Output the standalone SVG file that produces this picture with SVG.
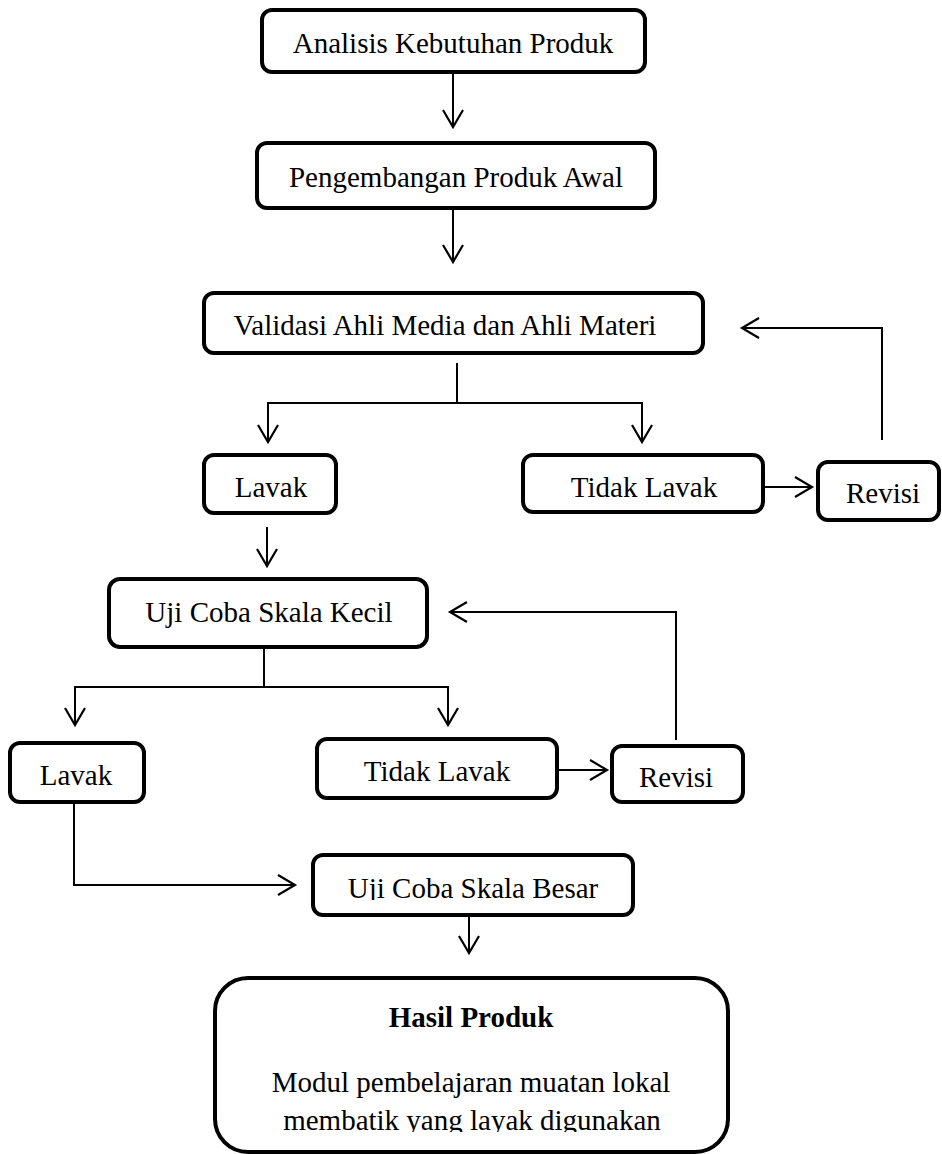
<svg xmlns="http://www.w3.org/2000/svg" width="942" height="1154" viewBox="0 0 942 1154">
<style>
.box{fill:#fff;stroke:#000;stroke-width:4}
.t{font-family:"Liberation Serif","Times New Roman",serif;font-size:29px;fill:#000;text-anchor:middle}
.b{font-weight:bold}
.c{fill:none;stroke:#000;stroke-width:2}
</style>
<defs>
<marker id="ah" markerUnits="userSpaceOnUse" orient="auto" overflow="visible" refX="0" refY="0" markerWidth="20" markerHeight="20">
<path d="M-17,-10 L0,0 L-17,10" fill="none" stroke="#000" stroke-width="2.2"/>
</marker>
<clipPath id="clipBesar"><rect x="313" y="855" width="320" height="45"/></clipPath>
<clipPath id="clipHasil"><rect x="215" y="978" width="513" height="154"/></clipPath>
</defs>
<rect width="942" height="1154" fill="#fff"/>
<g id="connectors">
<path class="c" d="M453,72 V127" marker-end="url(#ah)"/>
<path class="c" d="M453,208 V262" marker-end="url(#ah)"/>
<path class="c" d="M457,363 V403 H268 V442" marker-end="url(#ah)"/>
<path class="c" d="M457,403 H642 V442" marker-end="url(#ah)"/>
<path class="c" d="M763,487 H812" marker-end="url(#ah)"/>
<path class="c" d="M882,440 V328 H742" marker-end="url(#ah)"/>
<path class="c" d="M267,527 V566" marker-end="url(#ah)"/>
<path class="c" d="M264,647 V687 H75 V725" marker-end="url(#ah)"/>
<path class="c" d="M264,687 H448 V725" marker-end="url(#ah)"/>
<path class="c" d="M557,770 H607" marker-end="url(#ah)"/>
<path class="c" d="M676,740 V612 H450" marker-end="url(#ah)"/>
<path class="c" d="M74,802 V885 H295" marker-end="url(#ah)"/>
<path class="c" d="M469,915 V953" marker-end="url(#ah)"/>
</g>
<g id="analisis">
<rect class="box" x="262" y="10" width="383" height="62" rx="10"/>
<text class="t" x="453" y="53">Analisis Kebutuhan Produk</text>
</g>
<g id="pengembangan">
<rect class="box" x="257" y="143" width="398" height="65" rx="10"/>
<text class="t" x="456" y="187">Pengembangan Produk Awal</text>
</g>
<g id="validasi">
<rect class="box" x="204" y="293" width="499" height="60" rx="10"/>
<text class="t" x="445" y="335">Validasi Ahli Media dan Ahli Materi</text>
</g>
<g id="layak1">
<rect class="box" x="204" y="455" width="132" height="58" rx="10"/>
<text class="t" x="271" y="497">Lavak</text>
</g>
<g id="tidak1">
<rect class="box" x="523" y="455" width="240" height="57" rx="10"/>
<text class="t" x="644" y="497">Tidak Lavak</text>
</g>
<g id="revisi1">
<rect class="box" x="818" y="462" width="121" height="58" rx="10"/>
<text class="t" x="883" y="503">Revisi</text>
</g>
<g id="kecil">
<rect class="box" x="109" y="579" width="318" height="68" rx="11"/>
<text class="t" x="269" y="622">Uji Coba Skala Kecil</text>
</g>
<g id="layak2">
<rect class="box" x="10" y="743" width="134" height="59" rx="10"/>
<text class="t" x="76" y="785">Lavak</text>
</g>
<g id="tidak2">
<rect class="box" x="317" y="739" width="240" height="59" rx="10"/>
<text class="t" x="437" y="781">Tidak Lavak</text>
</g>
<g id="revisi2">
<rect class="box" x="612" y="746" width="131" height="56" rx="10"/>
<text class="t" x="676" y="787">Revisi</text>
</g>
<g id="besar">
<rect class="box" x="313" y="855" width="320" height="60" rx="10"/>
<text class="t" x="473" y="898" clip-path="url(#clipBesar)">Uji Coba Skala Besar</text>
</g>
<g id="hasil">
<rect class="box" x="215" y="978" width="513" height="174" rx="33"/>
<text class="t b" x="471" y="1027">Hasil Produk</text>
<text class="t" x="471" y="1092">Modul pembelajaran muatan lokal</text>
<text class="t" x="472" y="1130" clip-path="url(#clipHasil)">membatik yang layak digunakan</text>
</g>
</svg>
